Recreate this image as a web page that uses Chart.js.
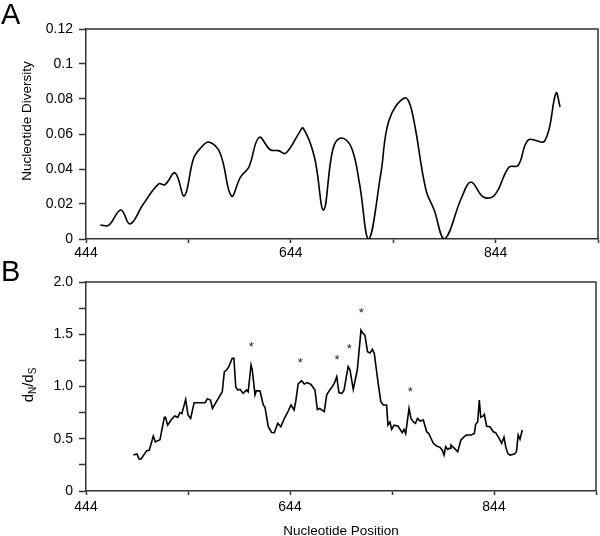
<!DOCTYPE html>
<html><head><meta charset="utf-8">
<script src="https://cdn.jsdelivr.net/npm/chart.js@4.4.1/dist/chart.umd.min.js"></script>
<style>
html,body{margin:0;padding:0;background:#fff;}
#wrap{position:relative;width:600px;height:536px;overflow:hidden;}
.pA{position:absolute;left:0;top:0;width:600px;height:270px;}
.pB{position:absolute;left:0;top:250px;width:600px;height:286px;}
</style></head><body>
<div id="wrap">
<div class="pA"><canvas id="cA"></canvas></div>
<div class="pB"><canvas id="cB"></canvas></div>
</div>
<script>
// Panel A: nucleotide diversity
const positionsA = [458,466,478,487,500,515,521,531,540,549,556,564,575,586,595,603,613,624,632,639,652,656,667,676,685,693,703,711,720,732,740,755,762,776,784,794,811,820,832,843,857,866,876,892,903,907];
const diversityA = [0.008,0.0078,0.0166,0.0086,0.020,0.0315,0.031,0.0377,0.0246,0.046,0.052,0.0554,0.049,0.0246,0.0355,0.041,0.058,0.051,0.0505,0.049,0.0605,0.0634,0.047,0.0166,0.051,0.0577,0.0526,0.032,0.0,0.0377,0.068,0.0806,0.0737,0.028,0.0166,0.0,0.024,0.0326,0.024,0.025,0.041,0.042,0.0566,0.056,0.0834,0.0754];

// Panel B: dN/dS
const positionsB = [490.4,494,496,498,503.5,506,510,512,516.5,520.8,522,524,528,531,534,536,538,541.7,544,546.6,550,560.7,563,566,568,577.6,579.6,582,584,587.4,589,590.8,592.6,595,598,601.5,603,605.8,607,609.7,611,614.6,617.8,619.5,622.7,626,628.6,632,635,638.4,642,645,648,649.6,652,655.4,658,661,664.6,668.5,670.8,673,677.6,680,683,685.5,687.4,689.8,692,695,697,701,702.8,706,710,713.6,715,717.5,720,722.5,724.7,726.6,730,733,735.5,738.7,740,742,743.7,746,750,754,755.8,757.4,760.7,762.6,765,767,769,771.5,774.7,778,780,784.5,787.8,791,793.3,795,796.6,798.5,800.9,801.8,805,808.4,811.6,814.8,817,821.5,824.7,826,828,829.6,831,833.5,834.5,836.8,840,843.3,845.6,849,851.5,853.8,855.5,857.5,859.7,864,866,867.7,869.5,871.7];
const dndsB = [0.344,0.354,0.306,0.306,0.386,0.39,0.526,0.47,0.49,0.705,0.705,0.63,0.686,0.718,0.705,0.75,0.74,0.877,0.727,0.695,0.845,0.845,0.883,0.87,0.79,0.95,1.14,1.16,1.19,1.27,1.27,0.998,0.967,0.973,0.935,0.967,0.95,1.206,1.16,0.92,0.96,0.957,0.823,0.80,0.615,0.56,0.558,0.648,0.615,0.692,0.76,0.823,0.775,0.855,1.024,1.056,1.024,1.037,1.02,0.967,0.78,0.79,0.76,0.92,0.967,1.0,1.03,1.094,0.94,0.935,0.967,1.19,1.16,0.973,1.16,1.54,1.515,1.49,1.333,1.32,1.356,1.318,1.062,0.855,0.823,0.823,0.63,0.66,0.59,0.63,0.62,0.558,0.59,0.55,0.79,0.695,0.66,0.648,0.695,0.67,0.68,0.567,0.55,0.456,0.43,0.418,0.39,0.344,0.424,0.40,0.41,0.44,0.41,0.376,0.488,0.52,0.536,0.536,0.55,0.638,0.66,0.87,0.705,0.718,0.734,0.62,0.615,0.567,0.558,0.504,0.456,0.514,0.424,0.36,0.344,0.354,0.376,0.536,0.495,0.584];

// Asterisks marking peaks in panel B
const starPositions = [606,654,690,702,714,762];
const starValues = [1.41,1.254,1.29,1.39,1.74,0.98];

// Ticks
const xTicks = [444,544,644,744,844,944];
const xTickLabels = ['444','','644','','844',''];
const yTicksA = [0,0.02,0.04,0.06,0.08,0.1,0.12];
const yTickLabelsA = ['0','0.02','0.04','0.06','0.08','0.1','0.12'];
const yTicksB = [0,0.25,0.5,0.75,1.0,1.25,1.5,1.75,2.0];
const yTickLabelsB = ['0','','0.5','','1.0','','1.5','','2.0'];

const FONT = 'Arial, "Liberation Sans", sans-serif';
const AXIS = '#333';
const TICKSIZE = 14;

function labelFrom(values, labels){
  return function(v){ const i = values.findIndex(t => Math.abs(t - v) < 1e-9); return i >= 0 ? labels[i] : ''; };
}
function xScale(pad){
  return {
    type:'linear', min:444, max:944,
    afterBuildTicks: s => { s.ticks = xTicks.map(v => ({value:v})); },
    ticks:{ autoSkip:false, maxRotation:0, padding:pad, color:'#000', font:{family:FONT,size:TICKSIZE}, callback: labelFrom(xTicks, xTickLabels) },
    grid:{ drawOnChartArea:false, drawTicks:true, tickLength:4, color:AXIS, tickColor:AXIS, tickWidth:1.5 },
    border:{ display:true, color:AXIS, width:1.5 }
  };
}
function yScale(min, max, ticks, labels){
  return {
    min, max,
    afterBuildTicks: s => { s.ticks = ticks.map(v => ({value:v})); },
    afterFit: s => { s.width = 86; },
    ticks:{ autoSkip:false, padding:6, color:'#000', font:{family:FONT,size:TICKSIZE}, callback: labelFrom(ticks, labels) },
    grid:{ drawOnChartArea:false, drawTicks:true, tickLength:7, color:AXIS, tickColor:AXIS, tickWidth:1.5 },
    border:{ display:true, color:AXIS, width:1.5 }
  };
}
function boxAndLetter(chart, letter, ly){
  const {ctx, chartArea:a} = chart;
  ctx.save();
  ctx.strokeStyle = AXIS; ctx.lineWidth = 1.5;
  ctx.beginPath(); ctx.moveTo(a.left, a.top); ctx.lineTo(a.right, a.top); ctx.lineTo(a.right, a.bottom); ctx.stroke();
  ctx.fillStyle = '#000';
  ctx.font = '29px ' + FONT;
  ctx.textAlign = 'left'; ctx.textBaseline = 'alphabetic';
  ctx.fillText(letter, 1, ly);
  ctx.restore();
}

const decoA = {
  id:'decoA',
  afterDraw(chart){
    boxAndLetter(chart, 'A', 24);
    const ctx = chart.ctx;
    ctx.save();
    ctx.translate(27, 121);
    ctx.rotate(-Math.PI/2);
    ctx.font = '13.5px ' + FONT;
    ctx.fillStyle = '#000';
    ctx.textAlign = 'center'; ctx.textBaseline = 'middle';
    ctx.fillText('Nucleotide Diversity', 0, 0);
    ctx.restore();
  }
};

const decoB = {
  id:'decoB',
  afterDraw(chart){
    boxAndLetter(chart, 'B', 31);
    const ctx = chart.ctx;
    // y title d_N/d_S
    ctx.save();
    ctx.translate(32.5, 135);
    ctx.rotate(-Math.PI/2);
    ctx.fillStyle = '#000';
    ctx.textBaseline = 'alphabetic'; ctx.textAlign = 'left';
    const big = '15px ' + FONT, small = '10px ' + FONT;
    const parts = [['d',big,0],['N',small,3.5],['/',big,0],['d',big,0],['S',small,3.5]];
    let w = 0;
    parts.forEach(p => { ctx.font = p[1]; w += ctx.measureText(p[0]).width; });
    let x = -w/2;
    parts.forEach(p => { ctx.font = p[1]; ctx.fillText(p[0], x, p[2]); x += ctx.measureText(p[0]).width; });
    ctx.restore();
    // asterisks
    const xs = chart.scales.x, ys = chart.scales.y;
    ctx.save();
    ctx.fillStyle = '#222';
    ctx.font = '13px ' + FONT;
    ctx.textAlign = 'center'; ctx.textBaseline = 'alphabetic';
    starPositions.forEach((p, i) => {
      ctx.fillText('*', xs.getPixelForValue(p), ys.getPixelForValue(starValues[i]) + 7.5);
    });
    ctx.restore();
  }
};

Chart.defaults.font.family = FONT;

new Chart(document.getElementById('cA'), {
  type:'line',
  data:{ datasets:[{ data: positionsA.map((p,i) => ({x:p, y:diversityA[i]})), borderColor:'#000', borderWidth:1.6, pointRadius:0, tension:0.4, fill:false }] },
  options:{
    responsive:true, maintainAspectRatio:false, animation:false,
    layout:{ padding:{ top:29, right:2, left:0, bottom:0 } },
    plugins:{ legend:{display:false}, tooltip:{enabled:false} },
    scales:{
      x: Object.assign(xScale(2), { afterFit: s => { s.height = 31; } }),
      y: yScale(0, 0.12, yTicksA, yTickLabelsA)
    }
  },
  plugins:[decoA]
});

const xB = xScale(4);
xB.afterFit = s => { s.height = 45; };
xB.title = { display:true, text:'Nucleotide Position', color:'#000', font:{family:FONT, size:13.5, lineHeight:1}, padding:{top:0, bottom:-2} };

new Chart(document.getElementById('cB'), {
  type:'line',
  data:{ datasets:[{ data: positionsB.map((p,i) => ({x:p, y:dndsB[i]})), borderColor:'#000', borderWidth:1.6, pointRadius:0, tension:0, fill:false }] },
  options:{
    responsive:true, maintainAspectRatio:false, animation:false,
    layout:{ padding:{ top:32, right:3, left:0, bottom:0 } },
    plugins:{ legend:{display:false}, tooltip:{enabled:false} },
    scales:{
      x: xB,
      y: yScale(0, 2, yTicksB, yTickLabelsB)
    }
  },
  plugins:[decoB]
});
</script>
</body></html>
